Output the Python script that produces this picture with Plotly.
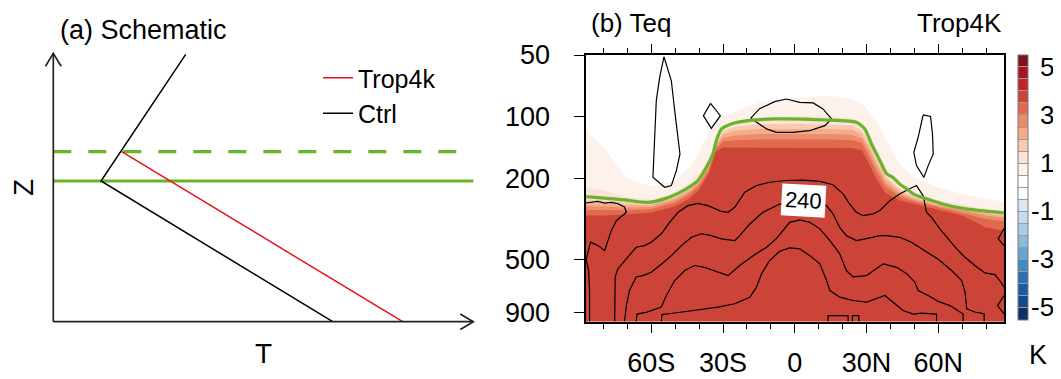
import math
import plotly.graph_objects as go

W, H = 1061, 379          # browser window
OFF = 8                   # default page margin around the figure
FW, FH = W - OFF, H - OFF # figure size
FONT = "Liberation Sans, Arial, Helvetica, sans-serif"


def px_x(p):
    return (p - OFF) / FW


def px_y(p):
    return 1 - (p - OFF) / FH


# ---------------- Panel (a): schematic profiles (schematic T / Z units) ----------------
CTRL_T = [132.4, 47.7, 279.4]
CTRL_Z = [267.4, 140.7, 0.0]
TROP4K_T = [68.4, 349.4]
TROP4K_Z = [170.0, 0.0]
TROPOPAUSE_CTRL_Z = 140.7
TROPOPAUSE_TROP4K_Z = 170.0
T_AXIS_END = 420.0
Z_AXIS_END = 268.4
ARROW_LEN = 13.0
ARROW_HALF = 7.8

# ---------------- Panel (b): Trop4K change of Teq (K) ----------------
# latitude columns at which the pressure (hPa) of each warming level was read
LAT = [-87.5, -80, -70, -60, -50, -44, -40, -36, -33, -30, -25, -15, 0, 15, 24, 28,
       31, 34, 38, 44, 50, 60, 70, 80, 87.5]
P_05 = [117.0, 140.1, 200.6, 219.5, 205.2, 176.6, 149.5, 117.8, 105.2, 99.4, 94.5, 85.4,
        80.8, 79.0, 82.1, 86.4, 94.2, 104.6, 127.3, 170.7, 198.4, 220.8, 238.9, 251.2, 261.3]
P_10 = [219.8, 228.6, 246.5, 253.5, 233.2, 210.4, 188.4, 159.0, 129.2, 111.5, 105.5, 101.0,
        99.7, 99.8, 101.4, 107.5, 121.7, 142.4, 177.0, 212.4, 235.7, 255.0, 269.0, 280.5, 290.4]
P_15 = [253.8, 256.6, 261.9, 264.8, 243.7, 221.5, 200.6, 170.9, 136.0, 117.5, 112.1, 108.9,
        108.4, 108.9, 110.1, 116.2, 132.6, 157.1, 194.2, 225.8, 246.5, 264.5, 278.5, 292.3, 300.6]
P_20 = [263.1, 265.7, 269.0, 270.2, 249.6, 227.1, 205.7, 174.6, 138.3, 122.0, 117.3, 114.8,
        114.4, 114.8, 115.8, 121.6, 139.3, 165.0, 201.7, 231.7, 250.4, 268.4, 282.9, 297.3, 305.8]
P_25 = [273.3, 275.4, 277.3, 276.3, 256.1, 233.2, 211.1, 178.8, 140.9, 127.0, 123.5, 121.4,
        121.0, 121.4, 122.4, 127.7, 147.0, 173.8, 210.4, 238.3, 255.0, 272.7, 287.4, 304.1, 312.7]
P_30 = [285.2, 286.4, 286.4, 283.3, 263.4, 239.9, 217.3, 183.4, 143.8, 132.7, 130.5, 129.2,
        128.9, 129.2, 130.3, 134.6, 155.7, 184.0, 220.3, 245.4, 259.8, 277.3, 294.0, 316.3, 325.3]
P_35 = [304.1, 304.1, 300.6, 294.0, 274.8, 250.6, 227.1, 190.5, 148.2, 141.6, 141.6, 141.6,
        141.6, 141.6, 142.4, 146.0, 169.5, 200.6, 235.9, 256.9, 267.2, 284.2, 304.1, 347.9, 359.8]
WARMING_LEVELS = [0.5, 1.0, 1.5, 2.0, 2.5, 3.0, 3.5]
P_BOTTOM = 1000.0
P_TOP = 50.0

# tropopause (green)
TROP_LAT = [-87.5, -80.9, -71.2, -61.4, -54.4, -48.8, -43.2, -40.5, -37.0, -34.2, -32.8,
            -30.7, -26.5, -19.5, -8.4, 13.3, 25.8, 29.3, 32.1, 35.6, 38.4, 41.1, 44.0,
            46.8, 49.5, 52.3, 55.1, 61.5, 69.1, 76.7, 87.5]
TROP_P = [245.7, 249, 255, 262, 252, 237, 217, 205, 177, 152, 131, 115, 108.5, 104.6,
          102.6, 103.8, 106.6, 114.8, 135.9, 163.9, 190, 198, 214, 225, 238, 246, 252,
          266, 279, 287, 295]

# Teq contour lines (K), read as lat / pressure polylines
TEQ_A_LAT = [-85.8, -85.8, -86.2, -87.2, -85.4, -82.3, -79.5, -78.1, -76.7, -74.6, -71.9,
             -70.4, -71.2, -74.0, -76.7, -79.5, -82.3, -85.1, -87.5]
TEQ_A_P = [1000, 706, 564, 497, 410, 426, 450, 403, 360, 322, 304, 293, 276, 266, 262,
           264, 259, 262, 264]
TEQ_B_LAT = [-75.3, -75.1, -74.0, -70.4, -66.3, -62.8, -60.0, -55.8, -52.3, -48.8, -44.7,
             -40.5, -36.3, -30.7, -27.9, -25.1, -20.9, -16.0, -10.5, -3.5, 3.5, 10.5, 16.0,
             20.2, 23.0, 25.8, 28.6, 32.8, 35.6, 39.8, 44.0, 48.1, 50.9, 53.7, 55.1, 57.2,
             60.7, 64.2, 67.7, 71.2, 75.3, 79.5, 83.7, 86.2, 87.5]
TEQ_B_P = [1000, 606, 554, 495, 434, 426, 410, 373, 328, 293, 272, 265, 272, 290, 293,
           277, 234, 217, 209, 205, 204, 207, 215, 238, 267, 293, 304, 298, 287, 257, 238,
           225, 217, 243, 293, 310, 353, 395, 442, 486, 533, 579, 590, 642, 680]
TEQ_240_LAT = [-71.2, -70.4, -69.1, -66.3, -63.5, -60.0, -55.8, -51.6, -47.4, -43.2, -39.1,
               -34.9, -30.7, -25.1, -23.0, -18.8, -13.3, -6.3, 3.5, 13.3, 16.0, 18.8, 21.6,
               25.8, 30.0, 35.6, 38.4, 44.0, 48.8, 54.4, 60.0, 65.6, 69.8, 71.2, 71.9, 75.3,
               79.2, 79.2]
TEQ_240_P = [1000, 836, 706, 606, 597, 575, 525, 477, 426, 388, 373, 381, 395, 403, 381,
             334, 293, 267, 262, 272, 298, 347, 381, 403, 394, 381, 381, 388, 410, 450, 497,
             564, 631, 718, 868, 899, 917, 1000]
TEQ_C_LAT = [-66.3, -66.0, -62.1, -55.8, -53.7, -50.2, -46.0, -41.9, -37.7, -32.1, -27.9,
             -23.0, -17.4, -11.8, -7.7, -2.1, 2.1, 6.3, 10.5, 14.7, 18.8, 21.6, 24.4, 30.0,
             33.5, 37.0, 42.6, 46.8, 50.2, 51.6, 55.8, 60.0, 64.9, 68.4, 70.4, 70.4]
TEQ_C_P = [1000, 920, 903, 850, 747, 631, 564, 533, 544, 575, 597, 533, 477, 434, 394, 328,
           319, 328, 353, 403, 467, 564, 606, 597, 560, 523, 544, 584, 642, 706, 747, 798,
           836, 884, 920, 1000]
TEQ_D_LAT = [-55.8, -55.5, -50.2, -41.9, -32.1, -25.1, -18.8, -16.0, -13.9, -10.5, -6.3,
             -2.1, 2.1, 6.3, 10.5, 13.3, 14.7, 18.8, 24.4, 30.0, 37.7, 41.1, 45.3, 49.5, 53.0,
             59.3, 59.3]
TEQ_D_P = [1000, 925, 909, 884, 851, 819, 761, 680, 585, 504, 454, 437, 442, 477, 523, 631,
           706, 761, 790, 805, 747, 805, 884, 920, 910, 920, 1000]
TEQ_E_LAT = [13.9, 13.9, 22.3, 22.3]
TEQ_E_P = [1000, 937, 937, 1000]
TEQ_F_LAT = [24.1, 24.1, 26.8, 26.8]
TEQ_F_P = [1000, 937, 937, 1000]
TEQ_G_LAT = [87.5, 85.1, 87.5]
TEQ_G_P = [352, 394, 426]
TEQ_H_LAT = [87.5, 84.8, 87.5]
TEQ_H_P = [747, 836, 918]
TEQ_I_LAT = [-54.7, -51.6, -50.2, -48.6, -48.0, -49.5, -51.6, -54.4, -59.3, -59.0, -58.6,
             -57.9, -56.5, -54.7]
TEQ_I_P = [51, 66.8, 93.5, 130.9, 152.1, 183.4, 217, 221.3, 197.7, 163.9, 121.5, 83.5,
           64.3, 51]
TEQ_J_LAT = [-35.2, -31.1, -34.9, -38.2, -35.2]
TEQ_J_P = [86.1, 98.9, 114.0, 98.9, 86.1]
TEQ_K_LAT = [-18.4, -14.7, -8.4, -3.5, 2.1, 7.7, 11.8, 15.4, 12.6, 6.3, -0.7, -7.7, -11.8,
             -14.7, -18.4]
TEQ_K_P = [101.7, 91.4, 84.5, 82.0, 85.1, 85.7, 91.7, 102.6, 110.6, 117.0, 119.3, 119.3,
           114.8, 108.5, 101.7]
TEQ_L_LAT = [53.7, 56.8, 57.6, 57.9, 55.8, 54.0, 50.9, 49.8, 51.6, 53.7]
TEQ_L_P = [98.1, 99.7, 121.5, 152.0, 173.4, 197.9, 173.4, 149.3, 126.2, 98.1]
TEQ_LABEL_TEXT = "240"
TEQ_LABEL_LAT = 3.5
TEQ_LABEL_P = 257.0

LAT_TICKS = [-60, -30, 0, 30, 60]
LAT_TICKTEXT = ["60S", "30S", "0", "30N", "60N"]
P_TICKS = [50, 100, 200, 500, 900]
P_TICKTEXT = ["50", "100", "200", "500", "900"]

# colour bar: 22 boxes of 0.5 K from > 5 (top) down to < -5 (bottom)
BAND_COLORS = ["#7f1020", "#a8141f", "#c42229", "#cc4437", "#e0694e", "#ed8c6a",
               "#f4ad8a", "#f9c9b0", "#fce3d6", "#fdf1ec", "#ffffff", "#ffffff",
               "#dce9f4", "#c6dcef", "#a8cee5", "#88bcdd", "#64a5d3", "#3f8bc4",
               "#2a71b3", "#1d5aa3", "#134791", "#112d63"]
CB_MIN, CB_MAX, CB_STEP = -5.5, 5.5, 0.5
CB_TICKS = [-5, -3, -1, 1, 3, 5]
CB_UNIT = "K"

GREEN = "#6ab42d"
RED = "#e3141b"

# ------------------------------------------------------------------------------
colors_up = BAND_COLORS[::-1]
n_box = len(colors_up)
colorscale = []
for i, c in enumerate(colors_up):
    colorscale.append([i / n_box, c])
    colorscale.append([(i + 1) / n_box, c])
box_edges = [CB_MIN + CB_STEP * k for k in range(1, n_box)]


def band_color(lo):
    return colors_up[int(round((lo - CB_MIN) / CB_STEP))]


# colour bar geometry (window pixels)
CB_TOP_PX, CB_BOT_PX = 55.0, 319.5
CB_LEFT_PX, CB_THICK = 1018.0, 10


def cb_value_px(v):
    return CB_TOP_PX + (CB_MAX - v) / (CB_MAX - CB_MIN) * (CB_BOT_PX - CB_TOP_PX)


fig = go.Figure()

# ----- panel (b) filled warming levels (region warmer than each level) -----
for lev, pc in zip(WARMING_LEVELS, [P_05, P_10, P_15, P_20, P_25, P_30, P_35]):
    fig.add_trace(go.Scatter(
        x=LAT + [LAT[-1], LAT[0]], y=pc + [P_BOTTOM, P_BOTTOM],
        mode="lines", fill="toself", fillcolor=band_color(lev),
        line=dict(width=0, color=band_color(lev)),
        xaxis="x2", yaxis="y2", showlegend=False, hoverinfo="skip"))

# colour bar carrier (box separators drawn as inside ticks across the bar)
fig.add_trace(go.Scatter(
    x=[None] * n_box, y=[None] * n_box, mode="markers",
    marker=dict(color=[CB_MIN + CB_STEP * (i + 0.5) for i in range(n_box)],
                colorscale=colorscale, cmin=CB_MIN, cmax=CB_MAX, showscale=True,
                colorbar=dict(
                    thickness=CB_THICK, len=(CB_BOT_PX - CB_TOP_PX) / FH, lenmode="fraction",
                    y=px_y((CB_TOP_PX + CB_BOT_PX) / 2), yanchor="middle",
                    x=px_x(CB_LEFT_PX), xanchor="left",
                    xpad=0, ypad=0, outlinewidth=1, outlinecolor="#7a7a7a",
                    tickvals=box_edges, ticks="inside", ticklen=CB_THICK,
                    tickwidth=0.8, tickcolor="#9a9a9a", showticklabels=False)),
    xaxis="x2", yaxis="y2", showlegend=False, hoverinfo="skip"))

# Teq contour lines
for la, pp in [(TEQ_A_LAT, TEQ_A_P), (TEQ_B_LAT, TEQ_B_P), (TEQ_240_LAT, TEQ_240_P),
               (TEQ_C_LAT, TEQ_C_P), (TEQ_D_LAT, TEQ_D_P), (TEQ_E_LAT, TEQ_E_P),
               (TEQ_F_LAT, TEQ_F_P), (TEQ_G_LAT, TEQ_G_P), (TEQ_H_LAT, TEQ_H_P),
               (TEQ_I_LAT, TEQ_I_P), (TEQ_J_LAT, TEQ_J_P), (TEQ_K_LAT, TEQ_K_P),
               (TEQ_L_LAT, TEQ_L_P)]:
    fig.add_trace(go.Scatter(x=la, y=pp, mode="lines",
                             line=dict(color="black", width=1.2),
                             xaxis="x2", yaxis="y2", showlegend=False, hoverinfo="skip"))

# tropopause
fig.add_trace(go.Scatter(x=TROP_LAT, y=TROP_P, mode="lines",
                         line=dict(color=GREEN, width=3.2, shape="spline", smoothing=0.6),
                         xaxis="x2", yaxis="y2", showlegend=False, hoverinfo="skip"))

# ----- panel (a) -----
fig.add_trace(go.Scatter(x=[0, T_AXIS_END], y=[TROPOPAUSE_TROP4K_Z] * 2, mode="lines",
                         line=dict(color=GREEN, width=3.2, dash="18px,17px"),
                         showlegend=False, hoverinfo="skip"))
fig.add_trace(go.Scatter(x=[0, T_AXIS_END], y=[TROPOPAUSE_CTRL_Z] * 2, mode="lines",
                         line=dict(color=GREEN, width=3.2),
                         showlegend=False, hoverinfo="skip"))
fig.add_trace(go.Scatter(x=TROP4K_T, y=TROP4K_Z, mode="lines", name="Trop4k",
                         line=dict(color=RED, width=1.5), hoverinfo="skip"))
fig.add_trace(go.Scatter(x=CTRL_T, y=CTRL_Z, mode="lines", name="Ctrl",
                         line=dict(color="black", width=1.5), hoverinfo="skip"))
# schematic axes with open arrow heads
fig.add_trace(go.Scatter(
    x=[0, T_AXIS_END, None, T_AXIS_END - ARROW_LEN, T_AXIS_END, T_AXIS_END - ARROW_LEN,
       None, 0, 0, None, -ARROW_HALF, 0, ARROW_HALF],
    y=[0, 0, None, ARROW_HALF, 0, -ARROW_HALF,
       None, 0, Z_AXIS_END, None, Z_AXIS_END - ARROW_LEN, Z_AXIS_END, Z_AXIS_END - ARROW_LEN],
    mode="lines", line=dict(color="#222222", width=1.7),
    showlegend=False, hoverinfo="skip"))

annotations = [
    dict(text="(a) Schematic", x=px_x(58), y=px_y(30), xref="paper", yref="paper",
         xanchor="left", yanchor="middle", showarrow=False, font=dict(size=27)),
    dict(text="Z", x=px_x(23), y=px_y(188), xref="paper", yref="paper",
         xanchor="center", yanchor="middle", borderpad=0,
         textangle=-90, showarrow=False, font=dict(size=28)),
    dict(text="T", x=px_x(263), y=px_y(353), xref="paper", yref="paper",
         xanchor="center", yanchor="middle", showarrow=False, font=dict(size=28)),
    dict(text="(b) Teq", x=px_x(589), y=px_y(23), xref="paper", yref="paper",
         xanchor="left", yanchor="middle", showarrow=False, font=dict(size=26)),
    dict(text="Trop4K", x=px_x(1004), y=px_y(23), xref="paper", yref="paper",
         xanchor="right", yanchor="middle", showarrow=False, font=dict(size=26)),
    dict(text=CB_UNIT, x=px_x(1038), y=px_y(355), xref="paper", yref="paper",
         xanchor="center", yanchor="middle", showarrow=False, font=dict(size=27)),
    dict(text=TEQ_LABEL_TEXT, x=TEQ_LABEL_LAT, y=math.log10(TEQ_LABEL_P),
         xref="x2", yref="y2", xanchor="center", yanchor="middle",
         showarrow=False, bgcolor="white", borderpad=3,
         textangle=3, font=dict(size=22)),
]
# colour-bar labels (right aligned, as in the reference)
for v in CB_TICKS:
    annotations.append(dict(text=str(v), x=px_x(1055), y=px_y(cb_value_px(v)),
                            xref="paper", yref="paper", xanchor="right", yanchor="middle",
                            showarrow=False, borderpad=0, font=dict(size=26)))

tickfont = dict(family=FONT, size=27, color="black")
fig.update_layout(
    width=FW, height=FH, autosize=False,
    margin=dict(l=0, r=0, t=0, b=0, autoexpand=False),
    paper_bgcolor="white", plot_bgcolor="white",
    font=dict(family=FONT, size=26, color="black"),
    hovermode=False,
    legend=dict(x=px_x(318), y=px_y(55), xanchor="left", yanchor="top",
                bgcolor="rgba(0,0,0,0)", font=dict(family=FONT, size=25, color="black"),
                tracegroupgap=0, itemwidth=30),
    xaxis=dict(domain=[px_x(33.3), px_x(483.3)], range=[-20, 430], visible=False),
    yaxis=dict(domain=[px_y(341.7), px_y(41.7)], range=[-20, 280], visible=False),
    xaxis2=dict(domain=[px_x(585.5), px_x(1004)], anchor="y2", range=[-87.5, 87.5],
                tickvals=LAT_TICKS, ticktext=LAT_TICKTEXT, ticks="outside", ticklen=9,
                tickwidth=1.3, tickcolor="black", showline=True, linewidth=2,
                linecolor="black", mirror="allticks", showgrid=False, zeroline=False,
                tickfont=tickfont, ticklabelstandoff=7,
                minor=dict(dtick=10, tick0=0, ticks="outside", ticklen=5, tickwidth=1.2,
                           tickcolor="black", showgrid=False)),
    yaxis2=dict(domain=[px_y(321.5), px_y(55)], anchor="x2", type="log",
                range=[math.log10(P_BOTTOM), math.log10(P_TOP)],
                tickvals=P_TICKS, ticktext=P_TICKTEXT, ticks="outside", ticklen=10,
                tickwidth=1.3, tickcolor="black", showline=True, linewidth=2,
                linecolor="black", mirror=True, showgrid=False, zeroline=False,
                tickfont=tickfont, ticklabelstandoff=18),
    annotations=annotations,
)

fig.write_html("out.html")
